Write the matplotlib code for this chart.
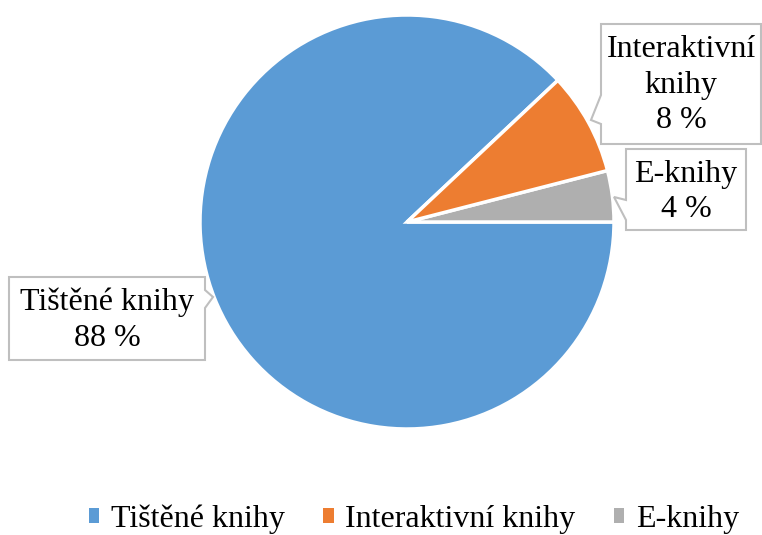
import matplotlib
matplotlib.use("Agg")
import matplotlib.pyplot as plt
from matplotlib.patches import Polygon, Rectangle

categories = ["Tištěné knihy", "Interaktivní knihy", "E-knihy"]
values = [88, 8, 4]
colors = ["#5B9BD5", "#ED7D31", "#AFAFAF"]
callout_text = ["Tištěné knihy\n88 %", "Interaktivní\nknihy\n8 %", "E-knihy\n4 %"]

plt.rcParams['font.family'] = ['Liberation Serif', 'DejaVu Serif']

W, H = 762, 535
fig = plt.figure(figsize=(W / 100, H / 100), dpi=100)
ax = fig.add_axes([0, 0, 1, 1])

def Y(py):
    return H - py

# pie: order Tištěné, E-knihy, Interaktivní counterclockwise from 43.2 deg
order = [0, 2, 1]
wedges, _ = ax.pie([values[i] for i in order], colors=[colors[i] for i in order],
                   startangle=43.2, counterclock=True, center=(407, Y(222)), radius=207,
                   wedgeprops=dict(edgecolor='white', linewidth=2.5))
ax.set_xlim(0, W)
ax.set_ylim(0, H)
ax.set_aspect('equal')
ax.axis('off')

edge = '#BFBFBF'
fs = 23

def callout(pts, cx, cy, txt):
    poly = Polygon([(x, Y(y)) for x, y in pts], closed=True, facecolor='white',
                   edgecolor=edge, linewidth=1.5, zorder=5)
    ax.add_patch(poly)
    ax.text(cx, Y(cy), txt, ha='center', va='center', fontsize=fs, zorder=6,
            linespacing=1.3, color='black')

# Interaktivní knihy
callout([(601, 24), (761, 24), (761, 144), (601, 144), (601, 124), (591, 120), (601, 95)],
        681, 85, callout_text[1])
# E-knihy
callout([(626, 149), (746, 149), (746, 230), (626, 230), (626, 220), (614, 197), (626, 200)],
        686, 192, callout_text[2])
# Tištěné knihy
callout([(9, 277), (205, 277), (205, 290), (213, 297), (205, 308), (205, 360), (9, 360)],
        107, 320, callout_text[0])

# legend
handles = [Rectangle((0, 0), 1, 1, facecolor=c, edgecolor='none') for c in colors]
leg = ax.legend(handles, categories, loc='center', bbox_to_anchor=(414 / W, 1 - 519 / H),
                ncol=3, frameon=False, fontsize=fs, handlelength=0.33, handleheight=0.33,
                handletextpad=0.37, columnspacing=1.2, borderaxespad=0, borderpad=0)

fig.savefig("out.png", dpi=100)
